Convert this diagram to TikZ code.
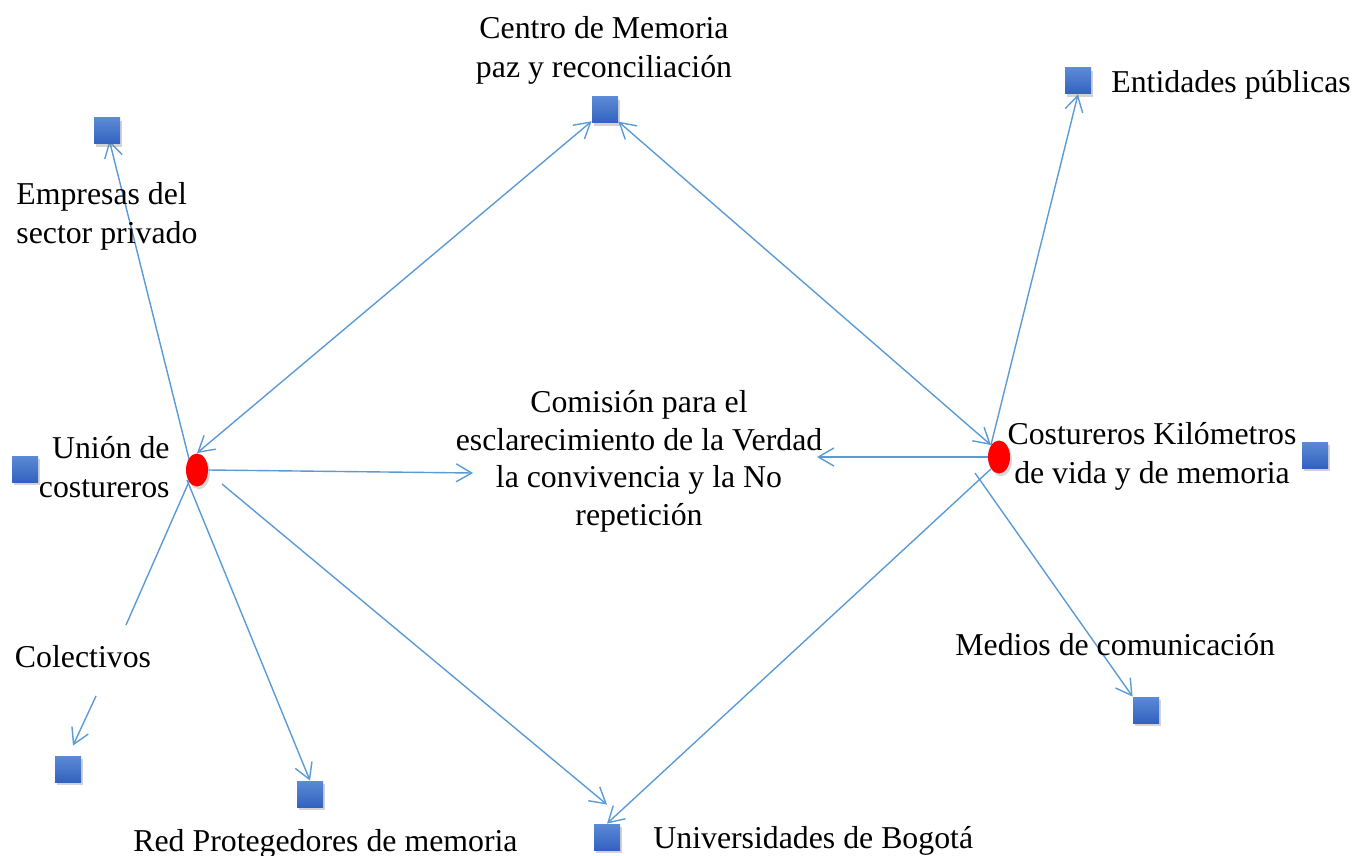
\documentclass[tikz,border=0pt]{standalone}
\usepackage{fontspec}
\setmainfont{Liberation Serif}
\usetikzlibrary{arrows.meta,shapes.geometric,shadows,calc}
\definecolor{lineblue}{HTML}{5B9BD5}
\definecolor{sqtop}{HTML}{5C8AD6}
\definecolor{sqbot}{HTML}{3262C0}
\pgfdeclarelayer{background}
\pgfsetlayers{background,main}
\tikzset{
  txt/.style={inner sep=0pt, font=\fontsize{15.9pt}{19.5pt}\selectfont},
  sq/.style={rectangle, minimum size=13pt, inner sep=0pt, draw=none,
    top color=sqtop, bottom color=sqbot,
    drop shadow={shadow xshift=1.2pt, shadow yshift=-1.6pt, opacity=0.35}},
  dot/.style={ellipse, fill=red, draw=none, minimum width=11pt, minimum height=16.5pt, inner sep=0pt,
    drop shadow={shadow xshift=1pt, shadow yshift=-1.4pt, opacity=0.3}},
  conn/.style={draw=lineblue, line width=0.7pt},
  arr/.style={conn, -{Straight Barb[length=7.75pt,width=9pt]}},
  darr/.style={conn, {Straight Barb[length=7.75pt,width=9pt]}-{Straight Barb[length=7.75pt,width=9pt]}}
}
\begin{document}
\begin{tikzpicture}[x=0.5pt,y=-0.5pt]
\useasboundingbox (0,0) rectangle (1354,856);
% nodes
\node[sq] (centro) at (605,110) {};
\node[txt, anchor=base, align=center] (centroT) at (604,78) {Centro de Memoria\\paz y reconciliación};
\node[sq] (ent) at (1078,81) {};
\node[txt, anchor=base west] (entT) at (1111,93) {Entidades públicas};
\node[sq] (emp) at (107,131) {};
\node[txt, anchor=base west, align=left] (empT) at (16,243) {Empresas del\\sector privado};
\node[sq] (unsq) at (25,469) {};
\node[txt, anchor=base east, align=right] (unT) at (170,497) {Unión de\\costureros};
\node[dot] (union) at (197,470) {};
\node[dot] (cost) at (999,457) {};
\node[txt, anchor=base, align=center] (costT) at (1152,483) {Costureros Kilómetros\\de vida y de memoria};
\node[sq] (costsq) at (1315,455) {};
\node[txt, anchor=base, align=center, font=\fontsize{15.9pt}{18.7pt}\selectfont] (com) at (639,525)
  {Comisión para el\\esclarecimiento de la Verdad\\la convivencia y la No\\repetición};
\node[txt, anchor=base] (colT) at (83,667) {Colectivos};
\node[sq] (colsq) at (68,769) {};
\node[sq] (redsq) at (310,794) {};
\node[txt, anchor=base west] (redT) at (133,851) {Red Protegedores de memoria};
\node[sq] (univ) at (607,837) {};
\node[txt, anchor=base west] (univT) at (653,848) {Universidades de Bogotá};
\node[txt, anchor=base west] (medT) at (955,655) {Medios de comunicación};
\node[sq] (med) at (1146,710) {};
% free ends
\coordinate (comL) at (473,473);
\coordinate (comR) at (817,457);
\coordinate (colA) at (126,625);
\coordinate (colB) at (96,696);
% connectors
\begin{pgfonlayer}{background}
\draw[darr] (union.north) -- (centro);
\draw[darr] (centro) -- (cost.north west);
\draw[arr] (union.east) -- (comL);
\draw[arr] (cost.west) -- (comR);
\draw[arr] ($(union)+(25,14)$) -- ($(univ.north)+(0,-19)$);
\draw[arr] (cost.south west) -- (univ.north);
\draw[arr] (cost.north west) -- (ent.south);
\draw[arr] ($(cost)+(-24,16)$) -- (med.north west);
\draw[arr, shorten >=-2pt] ($(union)+(-2,13)$) -- (emp);
\draw[arr] ($(union)+(-10,10)$) -- (redsq.north);
\draw[conn] ($(union)+(-2,-2)$) -- (colA);
\draw[arr] (colB) -- ($(colsq.north)+(5,-10)$);
\end{pgfonlayer}
\end{tikzpicture}
\end{document}
